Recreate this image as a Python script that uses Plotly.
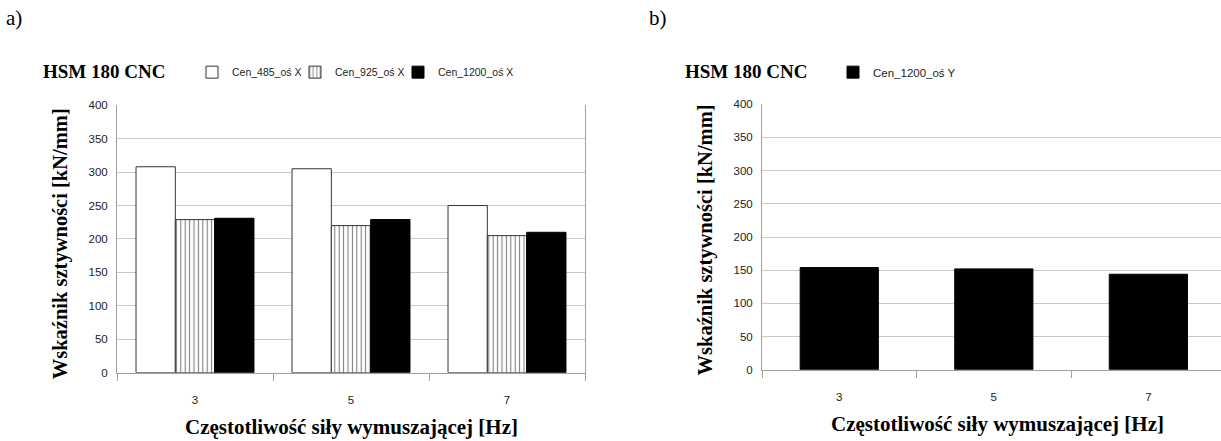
import plotly.graph_objects as go

# ---- data ----
freq_labels = ["3", "5", "7"]
cen_485_x = [308, 305, 250]
cen_925_x = [229, 220, 205]
cen_1200_x = [231, 229, 210]
cen_1200_y = [154, 152, 144]
y_ticks = [0, 50, 100, 150, 200, 250, 300, 350, 400]

W, H = 1221, 441
SERIF = "Liberation Serif"
SANS = "Liberation Sans"
GRID = "#c8c8c8"
AXL = "#a0a0a0"
EDGE = "#333333"

def px(x):
    return x / W

def py(y):
    return 1 - y / H

fig = go.Figure()

fig.add_trace(go.Bar(
    x=freq_labels, y=cen_485_x, name="Cen_485_oś X",
    marker=dict(color="white", line=dict(color=EDGE, width=1)),
    xaxis="x", yaxis="y", legend="legend"))
fig.add_trace(go.Bar(
    x=freq_labels, y=cen_925_x, name="Cen_925_oś X",
    marker=dict(color="white", line=dict(color=EDGE, width=1),
                pattern=dict(shape="|", fgcolor="black", bgcolor="white",
                             size=4.4, solidity=0.25)),
    xaxis="x", yaxis="y", legend="legend2"))
fig.add_trace(go.Bar(
    x=freq_labels, y=cen_1200_x, name="Cen_1200_oś X",
    marker=dict(color="black", line=dict(color="black", width=1)),
    xaxis="x", yaxis="y", legend="legend3"))
fig.add_trace(go.Bar(
    x=freq_labels, y=cen_1200_y, name="Cen_1200_oś Y", width=0.506,
    marker=dict(color="black", line=dict(color="black", width=1)),
    xaxis="x2", yaxis="y2", legend="legend4"))

xcommon = dict(type="category", showline=True, linecolor=AXL, linewidth=1,
               ticks="outside", tickson="boundaries", ticklen=7, tickcolor=AXL,
               showgrid=False, ticklabelstandoff=16,
               tickfont=dict(family=SANS, size=11.5, color="#222"))
ycommon = dict(range=[0, 400], tickvals=y_ticks, showline=True, linecolor=AXL,
               linewidth=1, showgrid=True, gridcolor=GRID, gridwidth=1,
               ticks="", zeroline=False, ticklabelstandoff=6,
               tickfont=dict(family=SANS, size=11.5, color="#222"))

def leg(xpix, size=10.5):
    return dict(orientation="h", x=px(xpix), y=py(68), xanchor="left", yanchor="middle",
                font=dict(family=SANS, size=size, color="#222"),
                itemwidth=30, bgcolor="rgba(0,0,0,0)", borderwidth=0)

fig.update_layout(
    width=W, height=H,
    margin=dict(l=0, r=0, t=0, b=0),
    paper_bgcolor="white", plot_bgcolor="white",
    barmode="group", bargap=0.244, bargroupgap=0,
    xaxis=dict(domain=[px(117), px(585)], anchor="y", range=[-0.5, 2.5], **xcommon),
    yaxis=dict(domain=[py(377), py(102)], anchor="x", mirror=True, **ycommon),
    xaxis2=dict(domain=[px(762), 1.0], anchor="y2", range=[-0.5, 2.47], **xcommon),
    yaxis2=dict(domain=[py(374), py(101)], anchor="x2", **ycommon),
    legend=leg(192),
    legend2=leg(295),
    legend3=leg(398),
    legend4=leg(833, 11.5),
    showlegend=True,
)

anns = [
    dict(text="a)", x=px(4), y=py(12), xanchor="left", yanchor="middle",
         font=dict(family=SERIF, size=21, color="black")),
    dict(text="b)", x=px(647), y=py(12), xanchor="left", yanchor="middle",
         font=dict(family=SERIF, size=21, color="black")),
    dict(text="<b>HSM 180 CNC</b>", x=px(41), y=py(67), xanchor="left", yanchor="middle",
         font=dict(family=SERIF, size=19, color="black")),
    dict(text="<b>HSM 180 CNC</b>", x=px(683), y=py(67), xanchor="left", yanchor="middle",
         font=dict(family=SERIF, size=19, color="black")),
    dict(text="<b>Wskaźnik sztywności [kN/mm]</b>", x=px(60), y=py(245), textangle=-90,
         xanchor="center", yanchor="middle",
         font=dict(family=SERIF, size=20.5, color="black")),
    dict(text="<b>Wskaźnik sztywności [kN/mm]</b>", x=px(705), y=py(240), textangle=-90,
         xanchor="center", yanchor="middle",
         font=dict(family=SERIF, size=20.5, color="black")),
    dict(text="<b>Częstotliwość siły wymuszającej [Hz]</b>", x=px(351), y=py(433),
         xanchor="center", yanchor="middle",
         font=dict(family=SERIF, size=21, color="black")),
    dict(text="<b>Częstotliwość siły wymuszającej [Hz]</b>", x=px(997), y=py(430),
         xanchor="center", yanchor="middle",
         font=dict(family=SERIF, size=21, color="black")),
]
for a in anns:
    a.update(xref="paper", yref="paper", showarrow=False)
fig.update_layout(annotations=anns)

fig.write_html("out.html")
